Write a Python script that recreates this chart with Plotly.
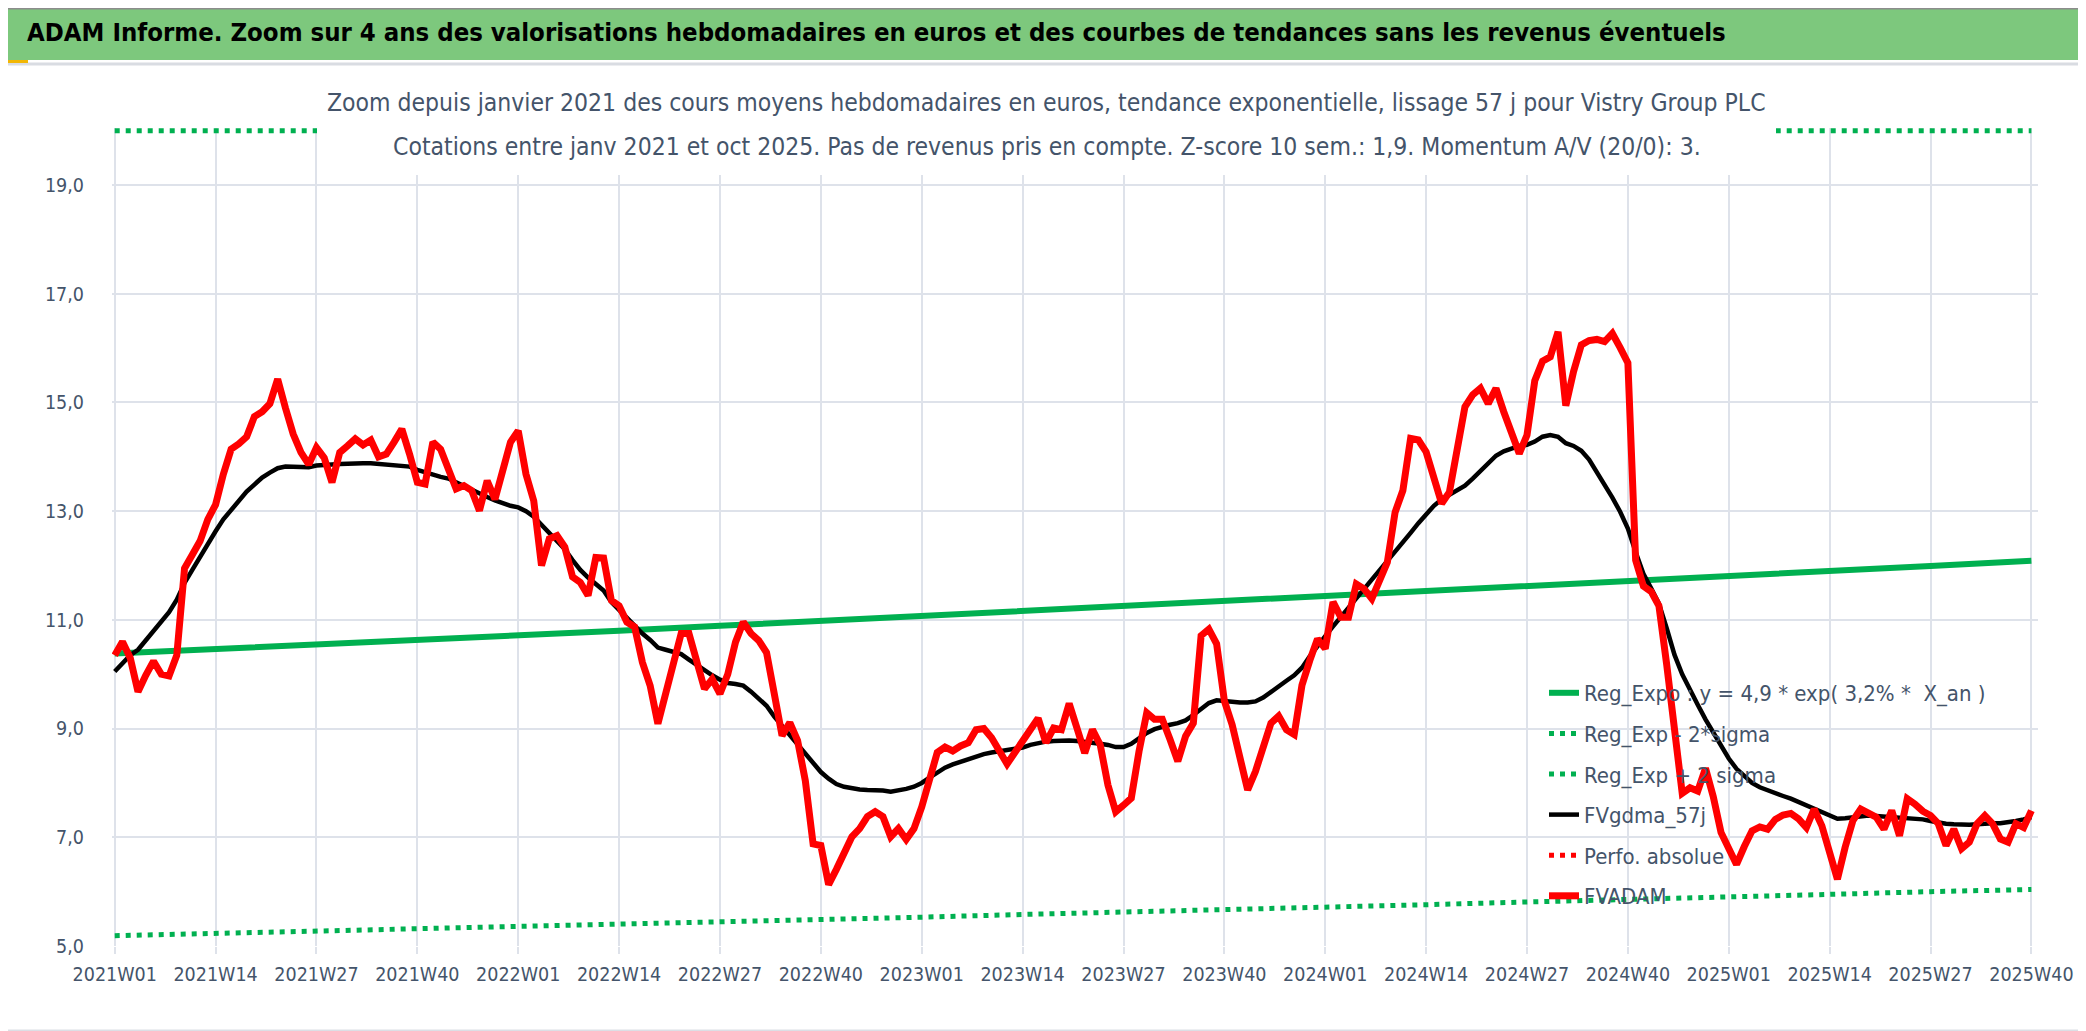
import plotly.graph_objects as go

# weekly categories 2021W01 .. 2025W40
weeks = [f"{y}W{w:02d}" for y in range(2021, 2026) for w in range(1, 53)][:248]
tick_weeks = weeks[::13]

# FVADAM : weekly average price (EUR)
fvadam = [
    10.35, 10.6, 10.3, 9.68, 9.98, 10.24, 10.0, 9.97, 10.35, 11.95,
    12.2, 12.45, 12.85, 13.12, 13.68, 14.14, 14.24, 14.37, 14.74, 14.83,
    14.98, 15.43, 14.9, 14.42, 14.08, 13.86, 14.17, 13.98, 13.53, 14.08,
    14.2, 14.33, 14.22, 14.31, 14.0, 14.05, 14.27, 14.51, 14.05, 13.53,
    13.5, 14.27, 14.14, 13.81, 13.41, 13.47, 13.38, 13.01, 13.56, 13.22,
    13.74, 14.27, 14.48, 13.68, 13.19, 12.0, 12.49, 12.55, 12.34, 11.79,
    11.69, 11.45, 12.15, 12.14, 11.36, 11.26, 10.96, 10.87, 10.22, 9.79,
    9.09, 9.64, 10.13, 10.75, 10.75, 10.25, 9.73, 9.91, 9.64, 10.0,
    10.59, 10.96, 10.75, 10.62, 10.4, 9.64, 8.87, 9.11, 8.78, 8.04,
    6.88, 6.85, 6.13, 6.41, 6.74, 7.01, 7.16, 7.38, 7.47, 7.38,
    7.01, 7.16, 6.96, 7.16, 7.56, 8.01, 8.56, 8.66, 8.59, 8.68,
    8.74, 8.98, 9.0, 8.83, 8.56, 8.35, 8.56, 8.77, 8.98, 9.19,
    8.74, 9.01, 8.98, 9.46, 9.01, 8.55, 8.98, 8.7, 7.96, 7.47,
    7.59, 7.72, 8.58, 9.29, 9.17, 9.17, 8.8, 8.4, 8.86, 9.1,
    10.71, 10.83, 10.56, 9.51, 9.07, 8.46, 7.87, 8.21, 8.64, 9.1,
    9.23, 8.98, 8.89, 9.8, 10.25, 10.65, 10.47, 11.33, 11.05, 11.05,
    11.66, 11.57, 11.39, 11.72, 12.06, 12.98, 13.38, 14.34, 14.31, 14.09,
    13.63, 13.14, 13.35, 14.18, 14.92, 15.14, 15.26, 14.98, 15.26, 14.83,
    14.4, 14.06, 14.4, 15.4, 15.76, 15.84, 16.3, 14.94, 15.57, 16.06,
    16.14, 16.16, 16.12, 16.27, 16.01, 15.73, 12.1, 11.62, 11.52, 11.26,
    10.18, 8.93, 7.81, 7.91, 7.85, 8.27, 7.75, 7.09, 6.76, 6.5,
    6.83, 7.12, 7.19, 7.15, 7.33, 7.41, 7.44, 7.34, 7.18, 7.52,
    7.21, 6.69, 6.23, 6.82, 7.31, 7.52, 7.46, 7.37, 7.15, 7.49,
    7.03, 7.71, 7.61, 7.48, 7.4, 7.25, 6.85, 7.15, 6.79, 6.91,
    7.25, 7.4, 7.25, 6.97, 6.91, 7.25, 7.18, 7.49,
]

# FVgdma_57j : smoothed price
fvgdma = [
    10.05, 10.2, 10.35, 10.45, 10.63, 10.8, 10.97, 11.14, 11.37, 11.68,
    11.92, 12.17, 12.38, 12.63, 12.85, 13.03, 13.2, 13.36, 13.49, 13.62,
    13.71, 13.79, 13.82, 13.81, 13.81, 13.81, 13.84, 13.86, 13.86, 13.87,
    13.88, 13.88, 13.88, 13.88, 13.87, 13.85, 13.84, 13.83, 13.82, 13.76,
    13.71, 13.66, 13.63, 13.6, 13.53, 13.45, 13.38, 13.31, 13.26, 13.2,
    13.14, 13.1, 13.07, 13.0, 12.9, 12.75, 12.6, 12.45, 12.3, 12.1,
    11.92, 11.78, 11.65, 11.54, 11.33, 11.18, 11.02, 10.88, 10.75, 10.63,
    10.49, 10.45, 10.42, 10.37, 10.27, 10.17, 10.07, 9.98, 9.9, 9.84,
    9.82, 9.79, 9.68, 9.55, 9.42, 9.22, 9.05, 8.88, 8.7, 8.52,
    8.35, 8.2, 8.08, 7.98, 7.93, 7.9, 7.88, 7.87, 7.87, 7.86,
    7.84, 7.86, 7.89, 7.93, 8.0, 8.1, 8.2, 8.28, 8.34, 8.39,
    8.44, 8.49, 8.53, 8.56, 8.58, 8.59, 8.61, 8.65, 8.7, 8.74,
    8.76, 8.77, 8.78, 8.78, 8.77, 8.76, 8.74, 8.72, 8.7, 8.66,
    8.66, 8.72, 8.82, 8.92, 8.99, 9.04, 9.07, 9.1, 9.15, 9.25,
    9.37, 9.47, 9.52, 9.5, 9.48, 9.48, 9.48, 9.5, 9.57, 9.68,
    9.78, 9.88, 9.98, 10.12, 10.33, 10.5, 10.7, 10.88, 11.05, 11.22,
    11.39, 11.55, 11.72, 11.9, 12.06, 12.23, 12.4, 12.6, 12.78, 12.95,
    13.1, 13.22, 13.3, 13.37, 13.47, 13.6, 13.75, 13.9, 14.02, 14.1,
    14.16, 14.2, 14.22, 14.28, 14.37, 14.4, 14.37, 14.25, 14.2, 14.11,
    13.95, 13.72, 13.48, 13.25, 12.99, 12.68, 12.25, 11.85, 11.58, 11.3,
    10.85, 10.36, 10.0, 9.7, 9.44, 9.17, 8.92, 8.66, 8.45, 8.26,
    8.12, 8.0, 7.92, 7.86, 7.8, 7.76, 7.71, 7.65, 7.58, 7.52,
    7.46, 7.39, 7.34, 7.35, 7.37, 7.38, 7.4, 7.39, 7.38, 7.37,
    7.37, 7.36, 7.35, 7.33, 7.3, 7.27, 7.25, 7.24, 7.23, 7.23,
    7.24, 7.26, 7.26, 7.26, 7.27, 7.3, 7.33, 7.37,
]

# regression curve and bands, read at the tick weeks
reg_expo = [10.38, 10.46, 10.55, 10.63, 10.72, 10.80, 10.89, 10.98, 11.07, 11.16,
            11.25, 11.34, 11.43, 11.52, 11.61, 11.71, 11.80, 11.90, 11.99, 12.09]
reg_low = [5.19, 5.23, 5.27, 5.32, 5.36, 5.40, 5.45, 5.49, 5.53, 5.58,
           5.62, 5.67, 5.71, 5.76, 5.81, 5.85, 5.90, 5.95, 6.00, 6.04]
reg_high = [20.0] * 20  # above the axis max, drawn on the top edge

W, H = 2086, 1031
L, R, T, B = 104, 56, 120, 93
PW, PH = W - L - R, H - T - B


def px_x(px):
    return (px - L) / PW


def px_y(py):
    return (H - B - py) / PH


FONT = "DejaVu Sans Condensed, sans-serif"
SLATE = "#44546A"
GRID = "#DEE2EA"
GREEN = "#00B050"
YELLOW = "#F2B705"

fig = go.Figure()
fig.add_trace(go.Scatter(x=tick_weeks, y=reg_expo, mode="lines", legendgroup="a",
                         name="Reg_Expo : y = 4,9 * exp( 3,2% * \u00a0X_an )",
                         line=dict(color=GREEN, width=6)))
fig.add_trace(go.Scatter(x=tick_weeks, y=reg_low, mode="lines", legendgroup="b",
                         name="Reg_Exp - 2*sigma",
                         line=dict(color=GREEN, width=5, dash="5px,6px")))
fig.add_trace(go.Scatter(x=tick_weeks, y=reg_high, mode="lines", legendgroup="c",
                         name="Reg_Exp + 2 sigma",
                         line=dict(color=GREEN, width=5, dash="5px,6px")))
fig.add_trace(go.Scatter(x=weeks, y=fvgdma, mode="lines", legendgroup="d",
                         name="FVgdma_57j", line=dict(color="black", width=4.5)))
fig.add_trace(go.Scatter(x=weeks[:2], y=[None, None], mode="lines", legendgroup="e",
                         name="Perfo. absolue",
                         line=dict(color="#FF0000", width=5, dash="5px,6px")))
fig.add_trace(go.Scatter(x=weeks, y=fvadam, mode="lines", legendgroup="f",
                         name="FVADAM", line=dict(color="#FF0000", width=7)))

shapes = [
    # green header band
    dict(type="rect", xref="paper", yref="paper", x0=px_x(0), x1=px_x(W),
         y0=px_y(52), y1=px_y(0), fillcolor="#7DC87D", line=dict(width=0), layer="below"),
    # thin separator under header
    dict(type="line", xref="paper", yref="paper", x0=px_x(0), x1=px_x(W),
         y0=px_y(56), y1=px_y(56), line=dict(color="#D9DCE2", width=3)),
    # light line near the bottom and dark frame edges
    dict(type="line", xref="paper", yref="paper", x0=px_x(0), x1=px_x(2078),
         y0=px_y(1023), y1=px_y(1023), line=dict(color="#DCDFE5", width=3)),
    dict(type="line", xref="paper", yref="paper", x0=px_x(0), x1=px_x(W),
         y0=px_y(1029.5), y1=px_y(1029.5), line=dict(color="#8C8C8C", width=2)),
    dict(type="line", xref="paper", yref="paper", x0=px_x(0), x1=px_x(W),
         y0=px_y(0.5), y1=px_y(0.5), line=dict(color="#8C8C8C", width=2)),
    dict(type="line", xref="paper", yref="paper", x0=px_x(2083), x1=px_x(2083),
         y0=px_y(H), y1=px_y(52), line=dict(color="#8C8C8C", width=2)),
    # selection marks
    dict(type="rect", xref="paper", yref="paper", x0=px_x(0), x1=px_x(20),
         y0=px_y(55), y1=px_y(52), fillcolor=YELLOW, line=dict(width=0)),
    dict(type="rect", xref="paper", yref="paper", x0=px_x(2078), x1=px_x(W),
         y0=px_y(70), y1=px_y(52), fillcolor=YELLOW, line=dict(width=0)),
    dict(type="rect", xref="paper", yref="paper", x0=px_x(2076), x1=px_x(2082),
         y0=px_y(1028), y1=px_y(988), fillcolor=YELLOW, line=dict(width=0)),
    dict(type="rect", xref="paper", yref="paper", x0=px_x(0), x1=px_x(22),
         y0=px_y(1028), y1=px_y(1024), fillcolor=YELLOW, line=dict(width=0)),
    # white box behind the subtitle
    dict(type="rect", xref="paper", yref="paper", x0=px_x(309), x1=px_x(1768),
         y0=px_y(167), y1=px_y(62), fillcolor="white", line=dict(width=0), layer="above"),
]

sub1 = ("Zoom depuis janvier 2021 des cours moyens hebdomadaires en euros, tendance "
        "exponentielle, lissage 57 j pour Vistry Group PLC")
sub2 = ("Cotations entre janv 2021 et oct 2025. Pas de revenus pris en compte. "
        "Z-score 10 sem.: 1,9. Momentum A/V (20/0): 3.")

annotations = [
    dict(xref="paper", yref="paper", x=px_x(17), y=px_y(24), xanchor="left",
         yanchor="middle", showarrow=False,
         text="<b>ADAM Informe. Zoom sur 4 ans des valorisations hebdomadaires en euros "
              "et des courbes de tendances sans les revenus éventuels</b>",
         font=dict(family=FONT, size=25.5, color="black")),
    dict(xref="paper", yref="paper", x=px_x(1038.5), y=px_y(94), xanchor="center",
         yanchor="middle", showarrow=False, text=sub1,
         font=dict(family=FONT, size=24.5, color=SLATE)),
    dict(xref="paper", yref="paper", x=px_x(1038.5), y=px_y(139), xanchor="center",
         yanchor="middle", showarrow=False, text=sub2,
         font=dict(family=FONT, size=24.5, color=SLATE)),
]

fig.update_layout(
    width=W, height=H,
    margin=dict(l=L, r=R, t=T, b=B, autoexpand=False),
    paper_bgcolor="white", plot_bgcolor="white",
    separators=", ",
    font=dict(family=FONT, color=SLATE),
    showlegend=True,
    legend=dict(x=px_x(1536), y=px_y(664), xanchor="left", yanchor="top",
                bgcolor="rgba(0,0,0,0)", font=dict(family=FONT, size=22, color=SLATE),
                tracegroupgap=9, traceorder="grouped"),
    shapes=shapes,
    annotations=annotations,
    xaxis=dict(categoryorder="array", categoryarray=weeks, range=[-0.35, 247.85],
               tickmode="array", tickvals=tick_weeks, ticktext=tick_weeks,
               showgrid=True, gridcolor=GRID, gridwidth=2,
               ticks="outside", ticklen=7, tickwidth=2, tickcolor=GRID,
               showline=False, zeroline=False, ticklabelstandoff=4,
               tickfont=dict(family=FONT, size=19.5, color=SLATE)),
    yaxis=dict(range=[5, 20.05], tickmode="array", tickvals=[5, 7, 9, 11, 13, 15, 17, 19],
               tickformat=".1f", showgrid=True, gridcolor=GRID, gridwidth=2,
               zeroline=False, showline=False, ticks="", ticklabelstandoff=27,
               tickfont=dict(family=FONT, size=19.5, color=SLATE)),
)

fig.write_html("out.html")
